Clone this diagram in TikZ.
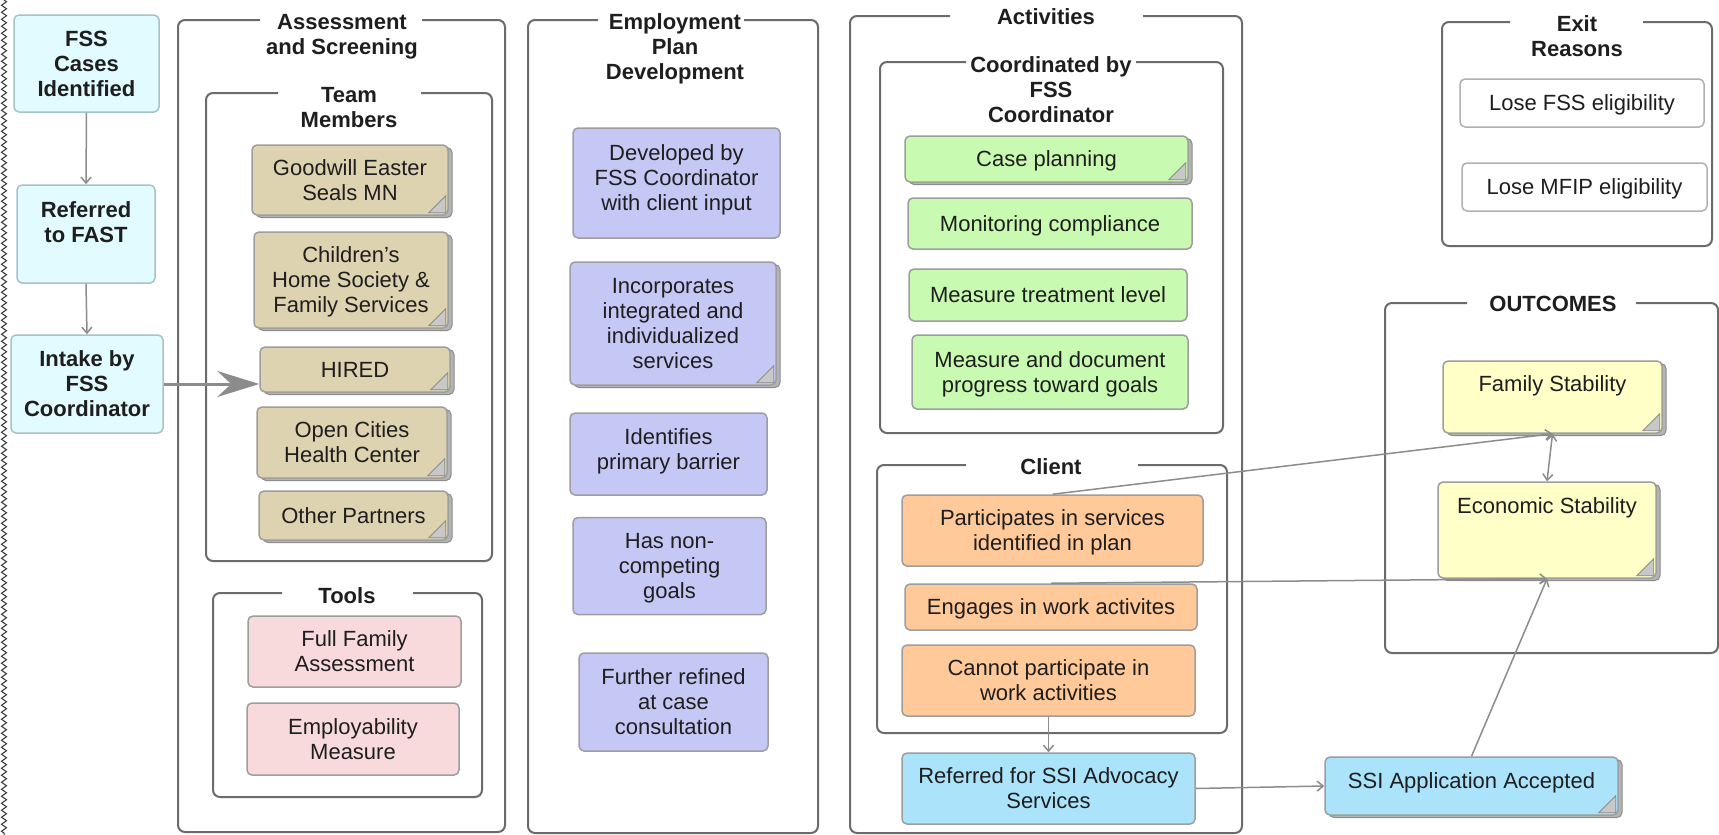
\documentclass[tikz,border=0pt]{standalone}
\usepackage{fontspec}
\setmainfont{Liberation Sans}
\usetikzlibrary{arrows.meta,shadows,decorations.pathmorphing}
\definecolor{txt}{HTML}{1E1E1E}
\definecolor{cyanf}{HTML}{E1FBFE}
\definecolor{cyanb}{HTML}{A6C3C6}
\definecolor{tanf}{HTML}{DDD3B0}
\definecolor{pinkf}{HTML}{F8DADD}
\definecolor{lavf}{HTML}{C5C8F4}
\definecolor{greenf}{HTML}{C8FAB2}
\definecolor{peachf}{HTML}{FFC999}
\definecolor{lbluef}{HTML}{ABE3FB}
\definecolor{yellowf}{HTML}{FFFFC8}
\definecolor{bord}{HTML}{9E9E9E}
\definecolor{grpc}{HTML}{6B6B6B}
\definecolor{arrc}{HTML}{8C8C8C}
\definecolor{shadc}{HTML}{B4B4B4}
\definecolor{foldc}{HTML}{C8C8C8}
\newcommand\foldmark[1]{\filldraw[fill=foldc,draw=arrc,line width=0.8pt] ([shift={(-3,-3)}]#1.south east) -- ++(0,-17) -- ++(-17,17) -- cycle;}
\newcommand\grpframe[6]{\draw[grp] (#5,#2) -- (#1,#2) -- (#1,#4) -- (#3,#4) -- (#3,#2) -- (#6,#2);}
\begin{document}
\begin{tikzpicture}[x=1pt,y=-1pt,
  every node/.style={font=\fontsize{22}{25}\selectfont, text=txt, align=center},
  bnode/.style={font=\fontsize{22}{25}\selectfont\bfseries},
  box/.style={draw=bord, line width=1.5pt, rounded corners=5pt, inner sep=0pt, text depth=0pt},
  foldbox/.style={box, general shadow={fill=shadc, draw=arrc, line width=1pt, shadow xshift=4pt, shadow yshift=-2.5pt}},
  grp/.style={draw=grpc, line width=2pt, rounded corners=7pt},
  conn/.style={draw=arrc, line width=1.5pt, -{Straight Barb[length=6pt,width=10pt]}},
]
\useasboundingbox (0,0) rectangle (1719,835);
\fill[white] (0,0) rectangle (1719,835);
\draw[decorate, decoration={zigzag, segment length=7pt, amplitude=2.5pt}, line width=1pt, draw=black!80] (4,0) -- (4,835);

% ---------- group frames ----------
\grpframe{178}{20}{505}{832}{260}{422}
\grpframe{206}{93}{492}{561}{278}{421}
\grpframe{213}{593}{482}{797}{282}{413}
\grpframe{528}{20}{818}{833}{598}{744}
\grpframe{850}{16}{1242}{833}{950}{1143}
\grpframe{880}{62}{1223}{433}{966}{1136}
\grpframe{877}{465}{1227}{733}{966}{1138}
\grpframe{1442}{22}{1712}{246}{1510}{1643}
\grpframe{1385}{303}{1718}{653}{1467}{1636}

% ---------- titles ----------
\node[bnode] (t-assess) at (342,36.5) {Assessment\\and Screening};
\node[bnode] (t-team) at (349,108) {Team\\Members};
\node[bnode] (t-tools) at (347,596) {Tools};
\node[bnode] (t-emp) at (675,49) {Employment\\Plan\\Development};
\node[bnode] (t-act) at (1046,17) {Activities};
\node[bnode] (t-coord) at (1051,89.5) {Coordinated by\\FSS\\Coordinator};
\node[bnode] (t-client) at (1051,467) {Client};
\node[bnode] (t-exit) at (1577,36.5) {Exit\\Reasons};
\node[bnode] (t-out) at (1553,304) {OUTCOMES};

% ---------- left column ----------
\node[box, bnode, fill=cyanf, draw=cyanb, minimum width=145pt, minimum height=97pt] (fss) at (86.5,63.5) {FSS\\Cases\\Identified};
\node[box, fill=cyanf, draw=cyanb, minimum width=138pt, minimum height=98pt] (ref) at (86,234) {};
\node[bnode] (ref-t) at (86,222) {Referred\\to FAST};
\node[box, bnode, fill=cyanf, draw=cyanb, minimum width=152pt, minimum height=98pt] (intake) at (87,384) {Intake by\\FSS\\Coordinator};

% ---------- team members ----------
\node[foldbox, fill=tanf, minimum width=196pt, minimum height=70pt] (goodwill) at (350,180) {Goodwill Easter\\Seals MN};
\foldmark{goodwill}
\node[foldbox, fill=tanf, minimum width=194pt, minimum height=96pt] (childrens) at (351,280) {Children's\\Home Society \&\\Family Services};
\foldmark{childrens}
\node[foldbox, fill=tanf, minimum width=190pt, minimum height=45pt] (hired) at (355,369.5) {HIRED};
\foldmark{hired}
\node[foldbox, fill=tanf, minimum width=190pt, minimum height=71pt] (opencities) at (352,442.5) {Open Cities\\Health Center};
\foldmark{opencities}
\node[foldbox, fill=tanf, minimum width=189pt, minimum height=49pt] (other) at (353.5,515.5) {Other Partners};
\foldmark{other}

% ---------- tools ----------
\node[box, fill=pinkf, minimum width=213pt, minimum height=71pt] (ffa) at (354.5,651.5) {Full Family\\Assessment};
\node[box, fill=pinkf, minimum width=212pt, minimum height=72pt] (empm) at (353,739) {Employability\\Measure};

% ---------- employment plan ----------
\node[box, fill=lavf, minimum width=207pt, minimum height=110pt] (developed) at (676.5,183) {};
\node (developed-t) at (676.5,180) {Developed by\\FSS Coordinator\\with client input};
\node[foldbox, fill=lavf, minimum width=206pt, minimum height=123pt] (incorp) at (673,323.5) {Incorporates\\integrated and\\individualized\\services};
\foldmark{incorp}
\node[box, fill=lavf, minimum width=197pt, minimum height=82pt] (identifies) at (668.5,454) {};
\node (identifies-t) at (668.5,451) {Identifies\\primary barrier};
\node[box, fill=lavf, minimum width=193pt, minimum height=97pt] (noncomp) at (669.5,566) {Has non-\\competing\\goals};
\node[box, fill=lavf, minimum width=189pt, minimum height=98pt] (refined) at (673.5,702) {Further refined\\at case\\consultation};

% ---------- activities ----------
\node[foldbox, fill=greenf, minimum width=283pt, minimum height=46pt] (caseplan) at (1046.5,159) {Case planning};
\foldmark{caseplan}
\node[box, fill=greenf, minimum width=284pt, minimum height=51pt] (monitor) at (1050,223.5) {Monitoring compliance};
\node[box, fill=greenf, minimum width=278pt, minimum height=52pt] (treat) at (1048,295) {Measure treatment level};
\node[box, fill=greenf, minimum width=276pt, minimum height=74pt] (progress) at (1050,372) {Measure and document\\progress toward goals};

\node[box, fill=peachf, minimum width=301pt, minimum height=71pt] (particip) at (1052.5,530.5) {Participates in services\\identified in plan};
\node[box, fill=peachf, minimum width=292pt, minimum height=46pt] (engages) at (1051,607) {Engages in work activites};
\node[box, fill=peachf, minimum width=293pt, minimum height=71pt] (cannot) at (1048.5,680.5) {Cannot participate in\\work activities};
\node[box, fill=lbluef, minimum width=293pt, minimum height=71pt] (refssi) at (1048.5,788.5) {Referred for SSI Advocacy\\Services};

% ---------- exit reasons ----------
\node[box, fill=white, draw=bord!80, minimum width=244pt, minimum height=48pt] (losefss) at (1582,103) {Lose FSS eligibility};
\node[box, fill=white, draw=bord!80, minimum width=245pt, minimum height=48pt] (losemfip) at (1584.5,187) {Lose MFIP eligibility};

% ---------- outcomes ----------
\node[foldbox, fill=yellowf, minimum width=219pt, minimum height=72pt] (family) at (1552.5,397) {};
\foldmark{family}
\node (family-t) at (1552.5,386) {Family Stability};
\node[foldbox, fill=yellowf, minimum width=218pt, minimum height=96pt] (econ) at (1547,530) {};
\foldmark{econ}
\node (econ-t) at (1547,508) {Economic Stability};
\node[foldbox, fill=lbluef, minimum width=293pt, minimum height=58pt] (ssiacc) at (1471.5,786) {};
\foldmark{ssiacc}
\node (ssiacc-t) at (1471.5,783) {SSI Application Accepted};

% ---------- connectors ----------
\draw[conn] (fss.south) -- (ref.north);
\draw[conn] (ref.south) -- (intake.north);
\draw[draw=arrc, line width=3pt, -{Stealth[length=42pt,width=26pt,inset=14pt]}] (intake.east) -- (intake.east -| hired.west);
\draw[conn] (cannot.south) -- (refssi.north);
\draw[conn] (refssi.east) -- (ssiacc.west);
\draw[conn] (ssiacc.north) -- (econ.south);
\draw[conn] (particip.north) -- (family.south);
\draw[conn] (engages.north) -- (econ.south);
\draw[conn, {Straight Barb[length=6pt,width=10pt]}-{Straight Barb[length=6pt,width=10pt]}] (family.south) -- (econ.north);
\end{tikzpicture}
\end{document}
